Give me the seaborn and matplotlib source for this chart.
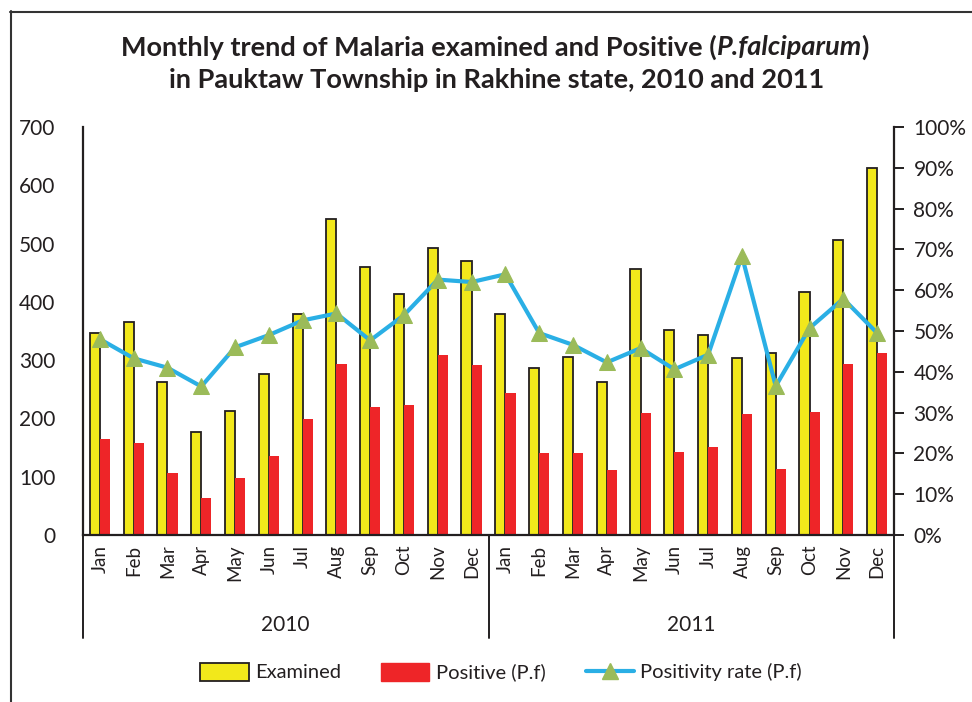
import numpy as np
import pandas as pd
import matplotlib
matplotlib.use("Agg")
import matplotlib.pyplot as plt
import matplotlib.transforms as mtransforms
from matplotlib.lines import Line2D
from matplotlib.patches import Patch
from matplotlib.ticker import FuncFormatter
import seaborn as sns

# ---------------- data ----------------
months = ["Jan", "Feb", "Mar", "Apr", "May", "Jun", "Jul", "Aug", "Sep", "Oct", "Nov", "Dec"]
years = ["2010", "2011"]
examined_2010 = [347, 365, 263, 176, 213, 277, 379, 542, 460, 414, 492, 470]
positive_2010 = [165, 157, 107, 64, 98, 136, 199, 294, 219, 223, 308, 291]
rate_2010 = [48.0, 43.3, 41.0, 36.4, 46.0, 49.0, 52.6, 54.3, 47.7, 53.9, 62.6, 62.0]
examined_2011 = [380, 286, 305, 262, 457, 352, 343, 303, 313, 417, 506, 630]
positive_2011 = [243, 140, 141, 111, 209, 143, 151, 207, 114, 211, 293, 312]
rate_2011 = [63.9, 49.5, 46.6, 42.3, 45.8, 40.6, 44.2, 68.4, 36.5, 50.7, 57.9, 49.5]

series_names = ["Examined", "Positive (P.f)", "Positivity rate (P.f)"]

# ---------------- styling ----------------
sns.set_theme(style="white")
plt.rcParams["font.family"] = ["Lato", "DejaVu Sans"]
TXT = "#231F20"
YELLOW = "#F2E81B"
RED = "#EE2528"
BLUE = "#2AAFE5"
GREEN = "#9BBB59"

slots = [f"{y}-{m}" for y in years for m in months]
examined = examined_2010 + examined_2011
positive = positive_2010 + positive_2011
rates = rate_2010 + rate_2011

df = pd.DataFrame({
    "slot": slots * 2,
    "measure": [series_names[0]] * len(slots) + [series_names[1]] * len(slots),
    "value": examined + positive,
})

W, H = 972, 702
fig = plt.figure(figsize=(W / 100, H / 100), dpi=100)
ax = fig.add_axes([83 / W, 1 - 535 / H, (894 - 83) / W, (535 - 127) / H])

sns.barplot(data=df, x="slot", y="value", hue="measure", order=slots,
            hue_order=series_names[:2],
            palette={series_names[0]: YELLOW, series_names[1]: RED},
            width=0.6, gap=0, saturation=1, legend=False, ax=ax, errorbar=None)
for bar in ax.containers[0]:
    bar.set_edgecolor(TXT)
    bar.set_linewidth(1.3)
for bar in ax.containers[1]:
    bar.set_linewidth(0)

ax.set_ylim(0, 700)
ax.set_yticks(range(0, 701, 100))
ax.set_xlim(-0.5, len(slots) - 0.5)
ax.set_xticks(range(len(slots)))
ax.set_xticklabels(months * 2, rotation=90, color=TXT)
ax.tick_params(axis="x", length=0, pad=7, labelsize=13.5)
ax.tick_params(axis="y", length=0, labelsize=15, labelcolor=TXT, pad=20)
ax.set_xlabel("")
ax.set_ylabel("")
for s in ["top", "right"]:
    ax.spines[s].set_visible(False)
for s in ["left", "bottom"]:
    ax.spines[s].set_color(TXT)
    ax.spines[s].set_linewidth(1.6)

ax2 = ax.twinx()
sns.lineplot(x=np.arange(len(slots)), y=rates, ax=ax2, color=BLUE, linewidth=3,
             marker="^", markersize=11, markerfacecolor=GREEN, markeredgecolor=GREEN,
             legend=False)
ax2.set_ylim(0, 100)
ax2.set_yticks(range(0, 101, 10))
ax2.yaxis.set_major_formatter(FuncFormatter(lambda v, p: f"{int(v)}%"))
ax2.tick_params(axis="y", length=7, width=1.4, color=TXT, labelsize=15,
                labelcolor=TXT, direction="out", pad=7)
ax2.set_ylabel("")
for s in ["top", "left", "bottom"]:
    ax2.spines[s].set_visible(False)
ax2.spines["right"].set_color(TXT)
ax2.spines["right"].set_linewidth(1.6)
ax.set_xlim(-0.5, len(slots) - 0.5)

# group labels and separators
trans = mtransforms.blended_transform_factory(ax.transData, ax.transAxes)
for xs in [-0.5, 11.5, 23.5]:
    ax.add_line(Line2D([xs, xs], [0, -0.2525], transform=trans, color=TXT,
                       lw=1.4, clip_on=False))
for i, y in enumerate(years):
    ax.text(5.5 + 12 * i, -0.221, y, transform=trans, ha="center", va="center",
            fontsize=15, color=TXT)

# legend
handles = [
    Patch(facecolor=YELLOW, edgecolor=TXT, linewidth=1.3),
    Patch(facecolor=RED, edgecolor=RED),
    Line2D([0], [0], color=BLUE, lw=3, marker="^", markersize=11,
           markerfacecolor=GREEN, markeredgecolor=GREEN),
]
fig.legend(handles, series_names, loc="center", bbox_to_anchor=(501 / W, 1 - 672 / H),
           ncol=3, frameon=False, fontsize=14.5, handlelength=2.4, handleheight=1.0,
           columnspacing=2.0, handletextpad=0.3, labelcolor=TXT)

# title with italic part
fig.canvas.draw()
renderer = fig.canvas.get_renderer()
TS = 19.5
parts = [("Monthly trend of Malaria examined and Positive (", "normal"),
         ("P.falciparum", "italic"), (")", "normal")]
texts = []
for txt, style in parts:
    t = fig.text(0, 1 - 47 / H, txt, fontsize=TS, fontweight="bold", style=style,
                 ha="left", va="center", color=TXT)
    texts.append(t)
widths = [t.get_window_extent(renderer).width for t in texts]
total = sum(widths)
x0 = 495 - total / 2
for t, w in zip(texts, widths):
    t.set_x(x0 / W)
    x0 += w
fig.text(497 / W, 1 - 80 / H, "in Pauktaw Township in Rakhine state, 2010 and 2011",
         fontsize=TS, fontweight="bold", ha="center", va="center", color=TXT)

# outer frame (left and top edges visible)
fig.add_artist(Line2D([10.5 / W, 10.5 / W], [0, 1 - 11 / H], transform=fig.transFigure,
                      color="#333333", lw=1.5))
fig.add_artist(Line2D([10 / W, 1], [1 - 11.5 / H, 1 - 11.5 / H], transform=fig.transFigure,
                      color="#333333", lw=1.5))

fig.savefig("out.png", dpi=100)
